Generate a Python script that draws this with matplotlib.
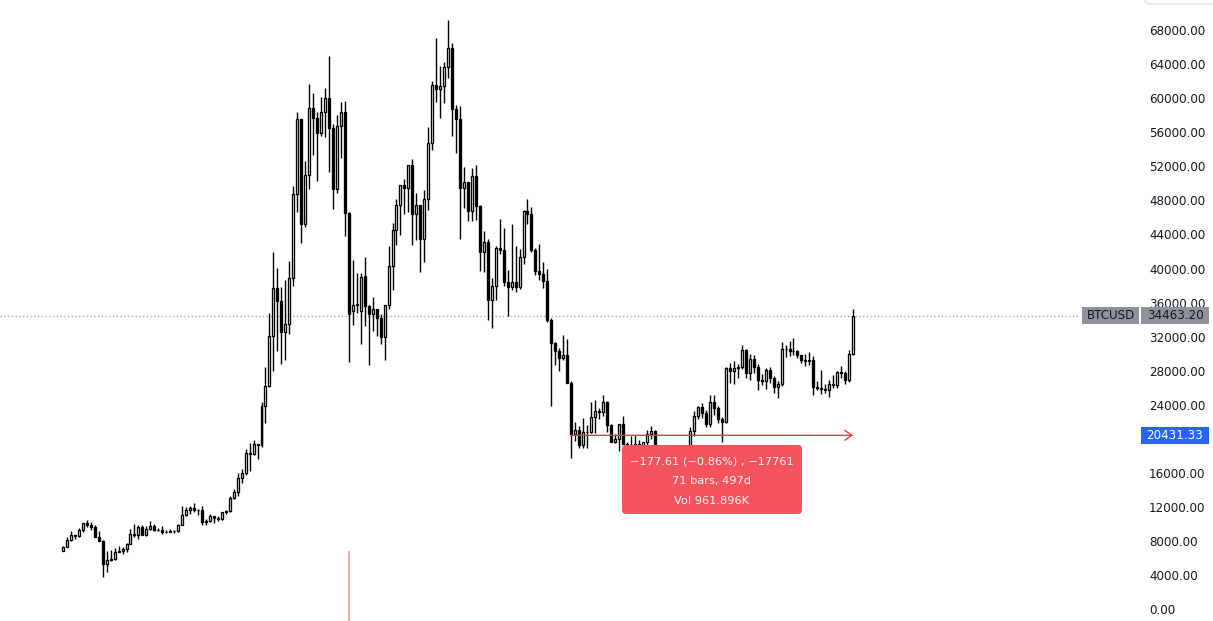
import matplotlib
matplotlib.use("Agg")
import matplotlib.pyplot as plt
from matplotlib.patches import Rectangle, FancyBboxPatch
from matplotlib.transforms import IdentityTransform
import numpy as np

# ---- data: weekly BTCUSD candles, week of 2019-12-30 .. 2023-10-23 ----
opens = [6920, 7360, 8190, 8700, 8610, 9370, 10160, 9910, 9670, 8530,
         8030, 5380, 5830, 5880, 6780, 6900, 7130, 7700, 8900, 8720,
         9680, 8720, 9450, 9750, 9340, 9300, 9130, 9070, 9250, 9160,
         9930, 11090, 11680, 11900, 11660, 11680, 10280, 10330, 10930, 10780,
         10670, 11390, 11500, 13040, 13740, 15480, 15960, 18400, 18190, 19370,
         19270, 23850, 26250, 32100, 37700, 36150, 32500, 33500, 38900, 48700,
         57500, 45200, 51000, 58800, 57600, 55900, 58300, 60000, 56500, 49300,
         56700, 58300, 46500, 35000, 35700, 35000, 39100, 35600, 34700, 35300,
         34200, 32000, 35700, 40300, 44500, 47500, 49800, 49400, 52100, 46400,
         47500, 43500, 48200, 54700, 61500, 61000, 61400, 63600, 65900, 58700,
         57500, 49400, 50100, 46700, 50800, 47300, 41900, 43100, 36300, 37900,
         42400, 42200, 38400, 37800, 38400, 37800, 41300, 46800, 46400, 42200,
         39700, 39400, 38500, 34000, 31300, 30300, 29500, 29900, 26600, 20600,
         21050, 19300, 20850, 20800, 22600, 23300, 23200, 24300, 21600, 19600,
         19950, 21800, 19400, 18800, 19300, 19400, 19200, 19600, 20600, 20900,
         16300, 16300, 16500, 17100, 17100, 16800, 16800, 16600, 17100, 20900,
         22700, 23700, 23000, 21800, 24300, 23600, 22400, 22000, 28300, 28000,
         28300, 28400, 30400, 27700, 29400, 28500, 26900, 26800, 28100, 27100,
         26100, 26400, 30500, 30600, 30300, 30300, 29900, 29300, 29100, 29300,
         26100, 26000, 25900, 25800, 26500, 26300, 27900, 27800, 26900, 30000]
highs = [7500, 8470, 9190, 8790, 9570, 10200, 10500, 10250, 9970, 9180,
         8180, 6900, 6980, 7200, 7470, 7300, 7750, 9470, 10070, 9950,
         9880, 9740, 10380, 10000, 9580, 9790, 9300, 9470, 9320, 9990,
         12100, 12000, 12090, 12490, 11800, 12090, 10580, 11180, 10990, 10950,
         11490, 11720, 13350, 14090, 15960, 16480, 18810, 19480, 19920, 19420,
         24300, 28400, 34800, 41950, 40100, 37800, 38600, 40900, 49700, 58300,
         57500, 52600, 61700, 60600, 58400, 60100, 61200, 64900, 57000, 58000,
         59500, 59600, 46600, 41000, 39500, 39500, 41300, 35700, 36600, 35300,
         34700, 35400, 42600, 45300, 48100, 49400, 50500, 51900, 52900, 48800,
         47300, 49200, 56600, 62000, 67000, 63700, 64200, 69200, 66400, 59200,
         59100, 51900, 50100, 51800, 52100, 47500, 44400, 43500, 38900, 42600,
         45800, 44800, 39800, 45200, 42600, 42300, 46900, 48200, 47200, 42400,
         42900, 40800, 40000, 34200, 31400, 30700, 32200, 31700, 26800, 22000,
         21500, 22500, 21600, 24300, 24600, 23600, 25200, 24400, 21800, 20600,
         21800, 22700, 19700, 20400, 20500, 19900, 19700, 21100, 21500, 21000,
         17200, 16800, 17400, 17400, 18400, 17100, 16900, 17100, 21400, 23300,
         23900, 24200, 23400, 25200, 25200, 23900, 22600, 28400, 28900, 29200,
         28800, 31000, 30500, 30000, 29800, 28800, 27600, 28300, 28400, 27400,
         26800, 31400, 31000, 31500, 31800, 30400, 29900, 30000, 30200, 29700,
         26800, 28100, 26400, 26900, 27500, 28000, 28600, 28000, 30400, 35200]
lows = [6870, 7300, 8080, 8250, 8550, 9100, 9720, 9290, 8460, 8000,
        3850, 4450, 5680, 5860, 6770, 6480, 6790, 7680, 8530, 8230,
        8800, 8640, 9270, 9200, 9200, 8840, 8980, 9050, 9020, 9120,
        9930, 10980, 11150, 11390, 11140, 9880, 9880, 10280, 10140, 10380,
        10540, 11200, 11420, 12960, 13290, 14840, 15800, 16200, 18110, 17600,
        19010, 21900, 26100, 28000, 30300, 28800, 29300, 32300, 37900, 46600,
        43000, 44900, 49300, 53300, 50300, 55500, 55400, 51300, 47000, 48800,
        53000, 43800, 29000, 33400, 34800, 31100, 33300, 28700, 32700, 32100,
        31100, 29300, 35200, 37500, 42800, 43900, 46400, 46600, 42800, 43400,
        39600, 40800, 46900, 53900, 59500, 57600, 59400, 62300, 55600, 53500,
        43500, 47100, 45600, 45600, 45700, 39700, 39600, 34000, 33000, 36300,
        41700, 38000, 34400, 37500, 37200, 37600, 40500, 45200, 41900, 39200,
        38600, 37700, 33700, 23900, 28700, 28000, 29300, 26600, 17800, 19800,
        18900, 19000, 18900, 20700, 20700, 22400, 22700, 20800, 19600, 19500,
        18600, 19400, 18200, 18500, 19100, 18100, 18900, 19300, 20000, 15600,
        15800, 15500, 16000, 16700, 16500, 16400, 16300, 16500, 17100, 20400,
        22300, 22500, 21400, 21400, 22800, 21900, 19700, 21900, 26600, 26500,
        27200, 28200, 27200, 26900, 27700, 25800, 26300, 25900, 26600, 25400,
        24800, 26200, 29600, 29700, 29900, 29500, 28900, 28600, 28700, 25200,
        25800, 25300, 25400, 24900, 26000, 26000, 27200, 26500, 26700, 29900]
closes = [7360, 8190, 8700, 8610, 9370, 10160, 9910, 9670, 8530, 8030,
          5380, 5830, 5880, 6780, 6900, 7130, 7700, 8900, 8720, 9680,
          8720, 9450, 9750, 9340, 9300, 9130, 9070, 9250, 9160, 9930,
          11090, 11680, 11900, 11660, 11680, 10280, 10330, 10930, 10780, 10670,
          11390, 11500, 13040, 13740, 15480, 15960, 18400, 18190, 19370, 19270,
          23850, 26250, 32100, 37700, 36150, 32500, 33500, 38900, 48700, 57500,
          45200, 51000, 58800, 57600, 55900, 58300, 60000, 56500, 49300, 56700,
          58300, 46500, 34700, 35700, 35800, 39000, 35600, 34700, 35300, 34200,
          32000, 35700, 40300, 44500, 47500, 49800, 49400, 52100, 46400, 47500,
          43500, 48200, 54700, 61500, 61000, 61400, 63600, 65900, 58700, 57500,
          49400, 50100, 46700, 50800, 47300, 41900, 43100, 36300, 37900, 42400,
          42200, 38400, 37800, 38400, 37800, 41300, 46800, 46400, 42200, 39700,
          39400, 38500, 34000, 31300, 30300, 29500, 29900, 26600, 20600, 21050,
          19300, 20850, 20800, 22600, 23300, 23200, 24300, 21600, 19600, 19950,
          21800, 19400, 18800, 19300, 19400, 19200, 19600, 20600, 20900, 16300,
          16300, 16500, 17100, 17100, 16800, 16800, 16600, 17100, 20900, 22700,
          23700, 23000, 21800, 24300, 23600, 22400, 22000, 28300, 28000, 28300,
          28400, 30400, 27700, 29400, 28500, 26900, 26800, 28100, 27100, 26100,
          26400, 30500, 30600, 30300, 30300, 29900, 29300, 29100, 29300, 26100,
          26000, 25900, 25800, 26500, 26300, 27900, 27800, 26900, 30000, 34463.2]

symbol = "BTCUSD"
last_price = 34463.20
measure_price = 20431.33
measure_start_bar = 128
measure_end_bar = 199
marker_bar = 72
y_ticks = list(range(0, 68001, 4000))
hidden_tick = 20000  # covered by the measurement price label
tooltip_lines = ["\u2212177.61 (\u22120.86%) , \u221217761", "71 bars, 497d", "Vol 961.896K"]

# ---- figure ----
W, H = 1213, 621
fig = plt.figure(figsize=(W / 100, H / 100), dpi=100)
fig.patch.set_facecolor("white")
ax = fig.add_axes([0, 0, 1140 / W, 1])
ax.set_facecolor("white")

step = 3.97
x0 = 63
ax.set_xlim(-x0 / step, (1140 - x0) / step)
yscale = 0.008525
ax.set_ylim((609.5 - H) / yscale, 609.5 / yscale)

n = len(closes)
xs = np.arange(n)
o = np.array(opens, float)
c = np.array(closes, float)
hi = np.array(highs, float)
lo = np.array(lows, float)
up = c >= o

ax.vlines(xs, lo, hi, color="black", lw=1.0, zorder=2)
ax.bar(xs[up], (c - o)[up], bottom=o[up], width=0.5, color="white",
       edgecolor="black", linewidth=0.95, zorder=3)
ax.bar(xs[~up], (o - c)[~up], bottom=c[~up], width=0.5, color="black",
       edgecolor="black", linewidth=0.95, zorder=3)

# last price dotted line
ax.axhline(last_price, xmin=0, xmax=1080 / 1140, color="#9598a1", lw=0.9,
           linestyle=(0, (1, 2)), zorder=1)

# measurement arrow
ax.annotate("", xy=(measure_end_bar, measure_price), xytext=(measure_start_bar, measure_price),
            arrowprops=dict(arrowstyle="->,head_length=0.5,head_width=0.35",
                            color="#f23645", lw=1.0, shrinkA=0, shrinkB=0), zorder=4)

# vertical marker line
ax.plot([marker_bar, marker_bar], [(609.5 - 552) / yscale, (609.5 - 640) / yscale],
        color="#f7a5a8", lw=1.3, zorder=1)

# axis ticks on right
ax.yaxis.tick_right()
ax.set_yticks(y_ticks)
ax.set_yticklabels(["" if v == hidden_tick else f"{v:.2f}" for v in y_ticks])
ax.tick_params(axis="y", length=0, pad=6.5, labelsize=8.6, labelcolor="#131722")
ax.set_xticks([])
for s in ax.spines.values():
    s.set_visible(False)

ident = IdentityTransform()


def disp_y(price):
    return ax.transData.transform((0, price))[1]


def label_box(x_left, x_right, price, face, text, tcolor):
    yc = disp_y(price)
    r = Rectangle((x_left, yc - 8.5), x_right - x_left, 17, transform=ident,
                  facecolor=face, edgecolor="none", zorder=10)
    fig.add_artist(r)
    fig.text((x_left + x_right) / 2 / W, yc / H, text, ha="center", va="center",
             fontsize=8.6, color=tcolor, zorder=11)


label_box(1082, 1139, last_price, "#8f929b", symbol, "#131722")
label_box(1141, 1209, last_price, "#8f929b", f"{last_price:.2f}", "#131722")
label_box(1141, 1209, measure_price, "#2962ff", f"{measure_price:.2f}", "white")

# tooltip
tb = FancyBboxPatch((622, H - 514), 180, 69, boxstyle="round,pad=0,rounding_size=4",
                    transform=ident, facecolor="#f5545f", edgecolor="none", zorder=12)
fig.add_artist(tb)
for k, line in enumerate(tooltip_lines):
    fig.text(712 / W, (H - 461 - 20 * k) / H, line, ha="center", va="center",
             fontsize=8.2, color="white", alpha=0.93, zorder=13)

# top-right partial box
tr = FancyBboxPatch((1145, H - 4), 120, 30, boxstyle="round,pad=0,rounding_size=5",
                    transform=ident, facecolor="white", edgecolor="#e0e3eb", lw=1, zorder=5)
fig.add_artist(tr)

fig.savefig("out.png", dpi=100)
